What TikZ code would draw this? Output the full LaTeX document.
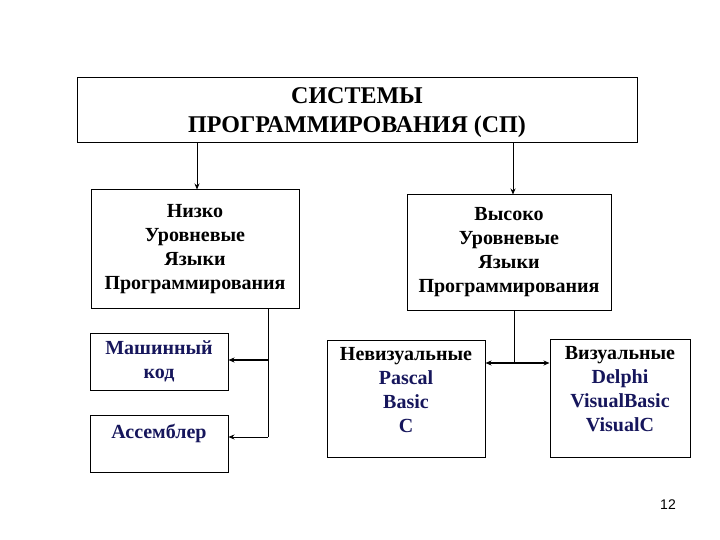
\documentclass[tikz,border=0pt]{standalone}
\usepackage{fontspec}
\setmainfont{Liberation Serif}
\setsansfont{Liberation Sans}
\usetikzlibrary{arrows.meta}
\definecolor{navy}{RGB}{22,22,92}
\tikzset{
	box/.style={draw, line width=1pt, align=center, inner sep=0pt, font=\bfseries\fontsize{20}{24}\selectfont},
	arr/.style={-{Stealth[length=6pt, width=5pt]}, line width=0.8pt}
}
\begin{document}
\begin{tikzpicture}[x=1pt, y=-1pt]

	\useasboundingbox[fill=white] (0,0) rectangle (720,540);

	\node[box, minimum width=560, minimum height=65, font=\bfseries\fontsize{24}{29}\selectfont] (sp) at (357,110) {\rule{0pt}{22pt}СИСТЕМЫ\\ПРОГРАММИРОВАНИЯ (СП)};

	\node[box, minimum width=208, minimum height=118] (low) at (195,249) {Низко\\Уровневые\\Языки\\Программирования};
	\node[box, minimum width=204, minimum height=115] (high) at (509,252.5) {Высоко\\Уровневые\\Языки\\Программирования};

	\node[box, minimum width=138, minimum height=57, text=navy] (mach) at (159,361.5) {Машинный\\код};
	\node[box, minimum width=138, minimum height=57, text=navy] (asm) at (159,443.5) {Ассемблер\\~};

	\node[box, minimum width=158, minimum height=117] (nonvis) at (406,398.5) {Невизуальные\\\textcolor{navy}{Pascal}\\\textcolor{navy}{Basic}\\\textcolor{navy}{C}\\[-6pt]~};
	\node[box, minimum width=140, minimum height=118, text=navy] (vis) at (620,398) {\textcolor{black}{Визуальные}\\Delphi\\VisualBasic\\VisualC\\[-6pt]~};

	\node[font=\sffamily\fontsize{14}{16}\selectfont] (page) at (668,505) {12};

	% connectors
	\coordinate (leftline) at (268,0);
	\coordinate (machy) at (0,360);
	\coordinate (asmy) at (0,437);
	\coordinate (visy) at (0,363);

	\draw[arr] ([xshift=2pt]low.north |- sp.south) -- ([xshift=2pt]low.north);
	\draw[arr] ([xshift=4pt]high.north |- sp.south) -- ([xshift=4pt]high.north);

	\draw[line width=0.8pt] (leftline |- low.south) -- (leftline |- asmy);
	\draw[arr] (leftline |- asmy) -- (mach.east |- asmy);
	\draw[arr, line width=2pt] (leftline |- machy) -- (mach.east |- machy);

	\draw[line width=0.8pt] ([xshift=5pt]high.south) -- ([xshift=5pt]high.south |- visy);
	\draw[{Stealth[length=6pt, width=5pt]}-{Stealth[length=6pt, width=5pt]}, line width=2pt] (nonvis.east |- visy) -- (vis.west |- visy);
\end{tikzpicture}
\end{document}
